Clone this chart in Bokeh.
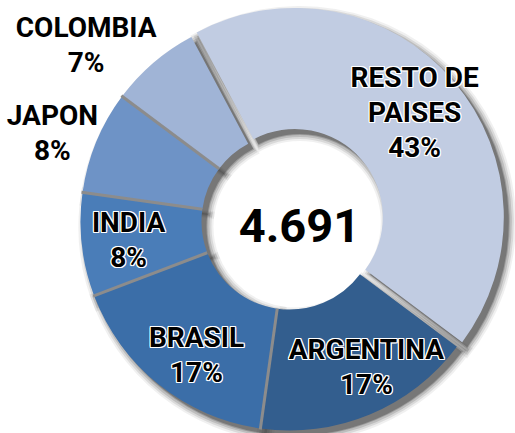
import numpy as np
from bokeh.plotting import figure
from bokeh.models import Range1d
from bokeh.embed import file_html
from bokeh.resources import INLINE
from bokeh.core.properties import value

# ---------------- data ----------------
countries = ["RESTO DE PAISES", "ARGENTINA", "BRASIL", "INDIA", "JAPON", "COLOMBIA"]
name_lines = [["RESTO DE", "PAISES"], ["ARGENTINA"], ["BRASIL"], ["INDIA"], ["JAPON"], ["COLOMBIA"]]
shares = [43, 17, 17, 8, 8, 7]
total_label = "4.691"

# ---------------- style ----------------
colors = ["#C1CCE2", "#335E8E", "#3B6EA8", "#4A7DB8", "#6E93C6", "#A0B4D6"]
explode = [7, 0, 0, 0, 0, 0]
label_r = [159, 165, 163, 162, 253, 269]
label_dtheta = [-0.5, -5.2, -3.8, -0.2, -2.0, -8.5]
first_angle = -28.0          # clockwise from 12 o'clock
R_OUT, R_IN = 209, 88
FONT = value("Roboto")

W, H = 515, 433
def X(px):  # picture pixel -> data
    return px
def Y(py):
    return H - py

cx, cy = X(289), Y(221)

p = figure(width=W, height=H, x_range=Range1d(0, W), y_range=Range1d(0, H),
           output_backend="svg", toolbar_location=None, min_border=0)
p.axis.visible = False
p.grid.visible = False
p.outline_line_color = None
p.background_fill_color = "white"
p.border_fill_color = "white"

vals = np.array(shares, dtype=float)
frac = vals / vals.sum()
theta_a = first_angle + 360 * np.concatenate([[0], np.cumsum(frac)[:-1]])
theta_b = first_angle + 360 * np.cumsum(frac)
theta_m = (theta_a + theta_b) / 2

def math_rad(theta_cw):
    return np.radians(90 - theta_cw)

ox = [cx + e * np.cos(math_rad(m)) for e, m in zip(explode, theta_m)]
oy = [cy + e * np.sin(math_rad(m)) for e, m in zip(explode, theta_m)]
starts = [math_rad(b) for b in theta_b]
ends = [math_rad(a) for a in theta_a]

# shadow (offset right-down, soft)
sdx, sdy = 5, -5
for k, a in [(7, 0.08), (5, 0.12), (3, 0.18), (1, 0.25), (0, 0.38)]:
    dang = [np.radians(k * 0.35)] * len(vals)
    p.annular_wedge(x=[x + sdx for x in ox], y=[y + sdy for y in oy],
                    inner_radius=R_IN - k, outer_radius=R_OUT + k,
                    start_angle=[s - d for s, d in zip(starts, dang)],
                    end_angle=[e + d for e, d in zip(ends, dang)],
                    fill_color="#3c3c3c", fill_alpha=a, line_color=None)

# slices
p.annular_wedge(x=ox, y=oy, inner_radius=R_IN, outer_radius=R_OUT,
                start_angle=starts, end_angle=ends,
                fill_color=colors, line_color=None)

# separators between non-exploded neighbours
sx0, sy0, sx1, sy1 = [], [], [], []
n = len(vals)
for i in range(n):
    j = (i + 1) % n
    if explode[i] == 0 and explode[j] == 0:
        ang = math_rad(theta_b[i])
        sx0.append(cx + R_IN * np.cos(ang)); sy0.append(cy + R_IN * np.sin(ang))
        sx1.append(cx + (R_OUT + 1) * np.cos(ang)); sy1.append(cy + (R_OUT + 1) * np.sin(ang))
p.segment(x0=sx0, y0=sy0, x1=sx1, y1=sy1, line_color="#8c8c8c", line_width=3)

# labels
lx, ly, lt = [], [], []
LS = 35
for i in range(n):
    lines = name_lines[i] + [f"{shares[i]}%"]
    ang = math_rad(theta_m[i] + label_dtheta[i])
    ax = ox[i] + label_r[i] * np.cos(ang)
    ay = oy[i] + label_r[i] * np.sin(ang)
    m = len(lines)
    for k, t in enumerate(lines):
        lx.append(ax)
        ly.append(ay + ((m - 1) / 2 - k) * LS)
        lt.append(t)

offs = [(-1, 0), (1, 0), (0, -1), (0, 1), (-1, -1), (1, 1), (-1, 1), (1, -1)]
for dx, dy in offs:
    p.text(x=[x + dx for x in lx], y=[y + dy for y in ly], text=lt,
           text_font=FONT, text_font_style="bold", text_font_size="28px",
           text_color="white", text_align="center", text_baseline="middle")
p.text(x=lx, y=ly, text=lt, text_font=FONT, text_font_style="bold",
       text_font_size="28px", text_color="black",
       text_align="center", text_baseline="middle")

# center total
p.text(x=[X(299)], y=[Y(225)], text=[total_label], text_font=FONT,
       text_font_style="bold", text_font_size="47px", text_color="black",
       text_align="center", text_baseline="middle")

open("out.html", "w").write(file_html(p, INLINE))
